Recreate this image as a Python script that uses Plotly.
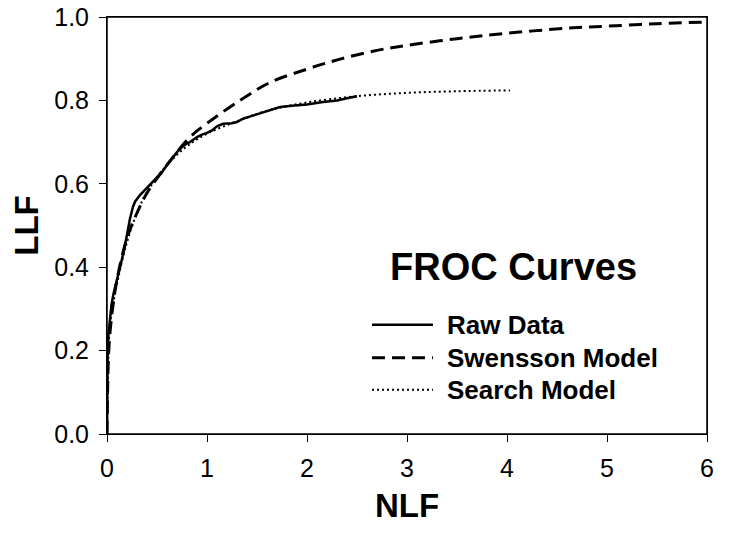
import plotly.graph_objects as go

# raw FROC operating points (NLF, LLF)
raw_nlf = [0, 0.003, 0.007, 0.015, 0.03, 0.045, 0.063, 0.08, 0.1, 0.13, 0.16, 0.2, 0.23,
           0.26, 0.28, 0.33, 0.38, 0.43, 0.5, 0.55, 0.6, 0.65, 0.7, 0.75, 0.8, 0.83, 0.9,
           0.95, 1.0, 1.05, 1.1, 1.16, 1.25, 1.3, 1.36, 1.45, 1.55, 1.65, 1.73, 1.85, 2.0,
           2.16, 2.3, 2.4, 2.5]
raw_llf = [0, 0.1, 0.2, 0.24, 0.278, 0.31, 0.334, 0.35, 0.37, 0.40, 0.43, 0.478, 0.517,
           0.545, 0.557, 0.573, 0.585, 0.597, 0.615, 0.628, 0.645, 0.66, 0.676, 0.688, 0.697,
           0.70, 0.712, 0.718, 0.722, 0.728, 0.738, 0.744, 0.745, 0.748, 0.756, 0.763, 0.771,
           0.778, 0.784, 0.787, 0.79, 0.796, 0.80, 0.805, 0.81]

# Swensson model fit
sw_nlf = [0, 0.01, 0.02, 0.05, 0.1, 0.2, 0.3, 0.4, 0.6, 0.83, 1.0, 1.33, 1.63, 2.0, 2.33,
          2.7, 3.0, 3.5, 4.0, 4.6, 5.0, 5.5, 6.0]
sw_llf = [0, 0.15, 0.21, 0.29, 0.37, 0.47, 0.53, 0.578, 0.645, 0.712, 0.745, 0.80, 0.843,
          0.875, 0.899, 0.92, 0.932, 0.948, 0.961, 0.973, 0.978, 0.984, 0.988]

# search model fit
se_nlf = [0, 0.01, 0.03, 0.1, 0.2, 0.3, 0.4, 0.6, 0.8, 1.0, 1.3, 1.6, 2.0, 2.5, 3.0, 3.5, 4.03]
se_llf = [0, 0.15, 0.26, 0.36, 0.46, 0.53, 0.58, 0.645, 0.69, 0.72, 0.75, 0.775, 0.795,
          0.81, 0.818, 0.822, 0.824]

legend_names = ["Raw Data", "Swensson Model", "Search Model"]

FONT = "Liberation Sans, Arial, sans-serif"

styles = [dict(color="black", width=2.5),
          dict(color="black", width=3, dash="13px,7px", shape="spline"),
          dict(color="black", width=2, dash="2px,3px", shape="spline")]

fig = go.Figure()
for xs, ys, name, st in zip([raw_nlf, sw_nlf, se_nlf], [raw_llf, sw_llf, se_llf],
                            legend_names, styles):
    fig.add_trace(go.Scatter(x=xs, y=ys, mode="lines", name=name, line=st,
                             showlegend=False))

axis_common = dict(showline=True, linecolor="black", linewidth=1, mirror=True,
                   showgrid=False, zeroline=False, ticks="outside", ticklen=7,
                   tickcolor="black", automargin=False, ticklabeloverflow="allow",
                   tickfont=dict(family=FONT, size=25, color="black"))

# plot frame plus a hand-made legend block
shapes = [dict(type="rect", xref="paper", yref="paper", x0=0, x1=1, y0=0, y1=1,
               line=dict(color="black", width=1.5), layer="above")]
annotations = [dict(text="<b>FROC Curves</b>", xref="paper", yref="paper",
                    x=0.677, y=0.40, xanchor="center", yanchor="middle",
                    showarrow=False, font=dict(family=FONT, size=38))]
row_y = [0.262, 0.183, 0.106]
for name, st, yy in zip(legend_names, styles, row_y):
    ln = {k: v for k, v in st.items() if k != "shape"}
    shapes.append(dict(type="line", xref="paper", yref="paper", x0=0.4417, x1=0.5433,
                       y0=yy, y1=yy, line=ln))
    annotations.append(dict(text="<b>%s</b>" % name, xref="paper", yref="paper",
                            x=0.564, y=yy, xanchor="left", yanchor="middle",
                            showarrow=False, font=dict(family=FONT, size=26)))

# page body adds 8px, so the figure is a little smaller than the window
fig.update_layout(
    width=721, height=527,
    margin=dict(l=99, r=22, t=9, b=101),
    paper_bgcolor="white", plot_bgcolor="white",
    font=dict(family=FONT, color="black"),
    xaxis=dict(range=[0, 6], dtick=1, tickformat="d", ticklabelstandoff=5,
               title=dict(text="<b>NLF</b>", font=dict(family=FONT, size=33), standoff=12),
               **axis_common),
    yaxis=dict(range=[0, 1], tickvals=[0, 0.2, 0.4, 0.6, 0.8, 1.0], tickformat=".1f",
               ticklabelstandoff=5,
               title=dict(text="<b>LLF</b>", font=dict(family=FONT, size=33), standoff=29),
               **axis_common),
    shapes=shapes,
    annotations=annotations,
)

fig.write_html("out.html")
